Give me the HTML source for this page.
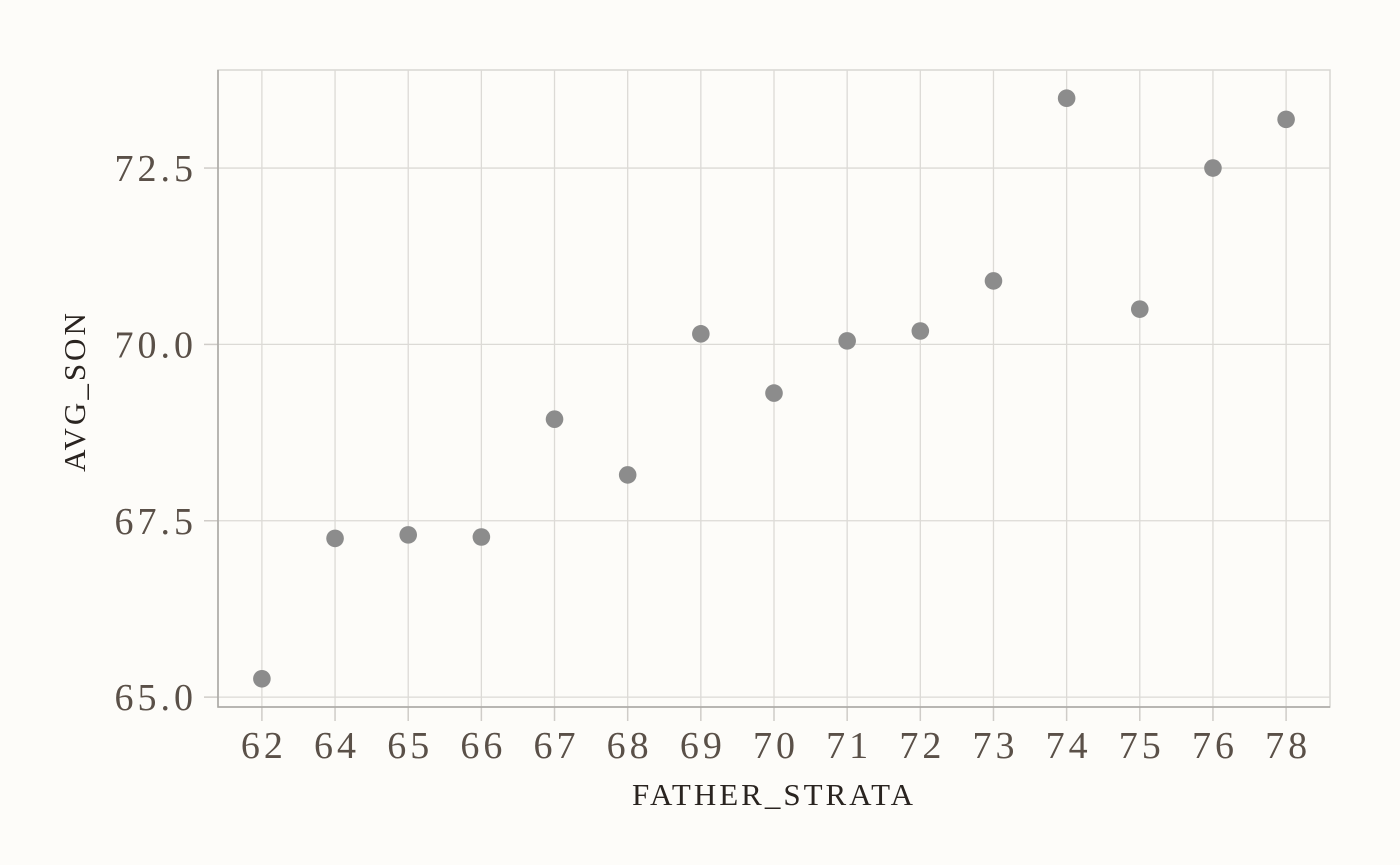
<!DOCTYPE html>
<html><head><meta charset="utf-8"><style>
html,body{margin:0;padding:0;background:#fdfcf9;}
svg{display:block;}
.tick{font-family:"Liberation Serif",serif;font-size:38px;fill:#5a5048;letter-spacing:4px;}
.title{font-family:"Liberation Serif",serif;font-size:31px;fill:#2a2420;letter-spacing:3px;}
</style></head><body>
<svg id="chart" width="1400" height="865" viewBox="0 0 1400 865" xmlns="http://www.w3.org/2000/svg">
<rect width="1400" height="865" fill="#fdfcf9"/>
<g id="grid"></g>
<g id="axes"></g>
<g id="points"></g>
<text class="title" x="774" y="805" text-anchor="middle">FATHER_STRATA</text>
<text class="title" x="85" y="391" text-anchor="middle" transform="rotate(-90 85 391)">AVG_SON</text>
</svg>
<script>
const categories = ["62","64","65","66","67","68","69","70","71","72","73","74","75","76","78"];
const avgSon = [65.26,67.25,67.30,67.27,68.94,68.15,70.15,69.31,70.05,70.19,70.90,73.49,70.50,72.50,73.19];
const yTicks = [65.0,67.5,70.0,72.5];
const yTickLabels = ["65.0","67.5","70.0","72.5"];

const L=218,R=1330,T=70,B=707;
const yMin=64.86,yMax=73.89;
const step=(R-L)/(categories.length+0.2);
function xPos(i){return L+(i+0.6)*step;}
function yPos(v){return B-(v-yMin)/(yMax-yMin)*(B-T);}
const NS="http://www.w3.org/2000/svg";
function mk(tag,attrs,parent){const e=document.createElementNS(NS,tag);for(const k in attrs)e.setAttribute(k,attrs[k]);parent.appendChild(e);return e;}
const grid=document.getElementById('grid'),axes=document.getElementById('axes'),pts=document.getElementById('points');
mk('rect',{x:L,y:T,width:R-L,height:B-T,fill:'none',stroke:'#d8d6d2','stroke-width':1.5},grid);
categories.forEach((c,i)=>{
  const x=xPos(i);
  const g=mk('line',{x1:x,x2:x,y1:T,y2:B,stroke:'#dcdad6','stroke-width':1.3},grid);
  
  
  const t=mk('line',{x1:x,x2:x,y1:B,y2:B+14,stroke:'#cfccc8','stroke-width':1.5},axes);
  
  
  const tx=mk('text',{x:x+2,y:758,'text-anchor':'middle',class:'tick'},axes);
  tx.textContent=c;
  
  
});
yTicks.forEach((v,i)=>{
  const y=yPos(v);
  const g=mk('line',{x1:L,x2:R,y1:y,y2:y,stroke:'#dcdad6','stroke-width':1.3},grid);
  
  
  const t=mk('line',{x1:L-14,x2:L,y1:y,y2:y,stroke:'#cfccc8','stroke-width':1.5},axes);
  
  
  const tx=mk('text',{x:197,y:y+13,'text-anchor':'end',class:'tick'},axes);
  tx.textContent=yTickLabels[i];
  
  
});
const ax=mk('path',{d:`M${L} ${T}V${B}H${R}`,fill:'none',stroke:'#a8a6a2','stroke-width':1.5},axes);


avgSon.forEach((v,i)=>{
  const c=mk('circle',{cx:xPos(i),cy:yPos(v),r:8.8,fill:'#8c8c8c'},pts);
  
  
});
</script>
</body></html>
